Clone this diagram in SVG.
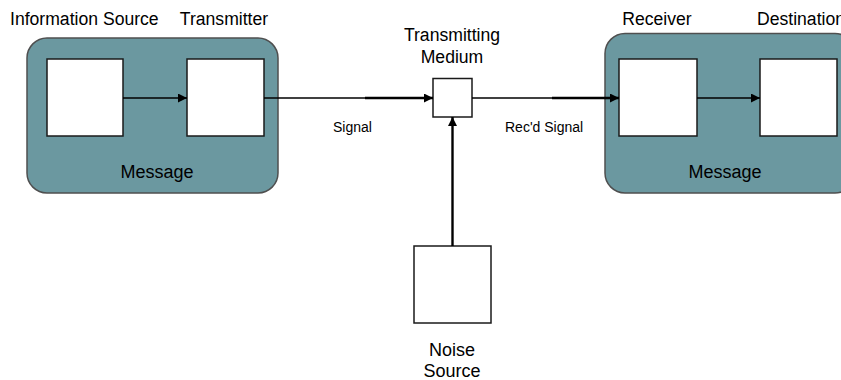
<svg xmlns="http://www.w3.org/2000/svg" width="841" height="380" viewBox="0 0 841 380">
  <defs>
    <marker id="arrow" viewBox="0 0 10 10" refX="10" refY="5" markerWidth="11" markerHeight="9" markerUnits="userSpaceOnUse" orient="auto">
      <path d="M0,0 L10,5 L0,10 Z" fill="#000"/>
    </marker>
  </defs>
  <style>
    .group { fill: #6b98a0; stroke: #4f4f4f; stroke-width: 1.5; }
    .box { fill: #fff; stroke: #1a1a1a; stroke-width: 1.5; }
    .label { font-family: "Liberation Sans", Arial, sans-serif; font-size: 17.6px; fill: #000; }
    .big { font-family: "Liberation Sans", Arial, sans-serif; font-size: 18px; fill: #000; }
    .small { font-family: "Liberation Sans", Arial, sans-serif; font-size: 14px; fill: #000; }
    .link { stroke: #000; stroke-width: 1.6; fill: none; }
    .link-bold { stroke: #000; stroke-width: 2.4; fill: none; }
  </style>

  <!-- sender side -->
  <g id="sender">
    <rect class="group" x="27" y="38" width="251" height="155" rx="20" ry="20"/>
    <text class="big" x="157" y="178" text-anchor="middle">Message</text>
  </g>
  <g id="information-source">
    <rect class="box" x="47" y="59" width="76" height="77"/>
    <text class="label" x="10" y="25">Information Source</text>
  </g>
  <g id="transmitter">
    <rect class="box" x="187" y="59" width="77" height="77"/>
    <text class="label" x="224" y="25" text-anchor="middle">Transmitter</text>
  </g>

  <!-- receiving side -->
  <g id="receiving">
    <rect class="group" x="605" y="33.5" width="250" height="159.5" rx="20" ry="20"/>
    <text class="big" x="725" y="178" text-anchor="middle">Message</text>
  </g>
  <g id="receiver">
    <rect class="box" x="619" y="59" width="78" height="77"/>
    <text class="label" x="657" y="25" text-anchor="middle">Receiver</text>
  </g>
  <g id="destination">
    <rect class="box" x="760" y="59" width="77" height="77"/>
    <text class="label" x="757" y="25">Destination</text>
  </g>

  <!-- channel -->
  <g id="medium">
    <rect class="box" x="433" y="78.5" width="39" height="38.5"/>
    <text class="label" x="452" y="41" text-anchor="middle" font-size="17">Transmitting</text>
    <text class="label" x="452" y="63" text-anchor="middle" font-size="17">Medium</text>
  </g>
  <g id="noise-source">
    <rect class="box" x="414" y="246" width="77" height="77"/>
    <text class="big" x="452" y="356" text-anchor="middle">Noise</text>
    <text class="big" x="452" y="377" text-anchor="middle">Source</text>
  </g>

  <!-- connectors -->
  <g id="connectors">
    <line class="link" x1="123" y1="98" x2="187" y2="98" marker-end="url(#arrow)"/>
    <line class="link" x1="264" y1="98" x2="366" y2="98"/>
    <line class="link-bold" x1="365" y1="98" x2="433" y2="98" marker-end="url(#arrow)"/>
    <text class="small" x="333" y="132">Signal</text>
    <line class="link" x1="472" y1="98" x2="553" y2="98"/>
    <line class="link-bold" x1="552" y1="98" x2="619" y2="98" marker-end="url(#arrow)"/>
    <text class="small" x="505" y="132">Rec'd Signal</text>
    <line class="link" x1="697" y1="98" x2="760" y2="98" marker-end="url(#arrow)"/>
    <line class="link-bold" x1="452.5" y1="246" x2="452.5" y2="117" marker-end="url(#arrow)"/>
  </g>
</svg>
